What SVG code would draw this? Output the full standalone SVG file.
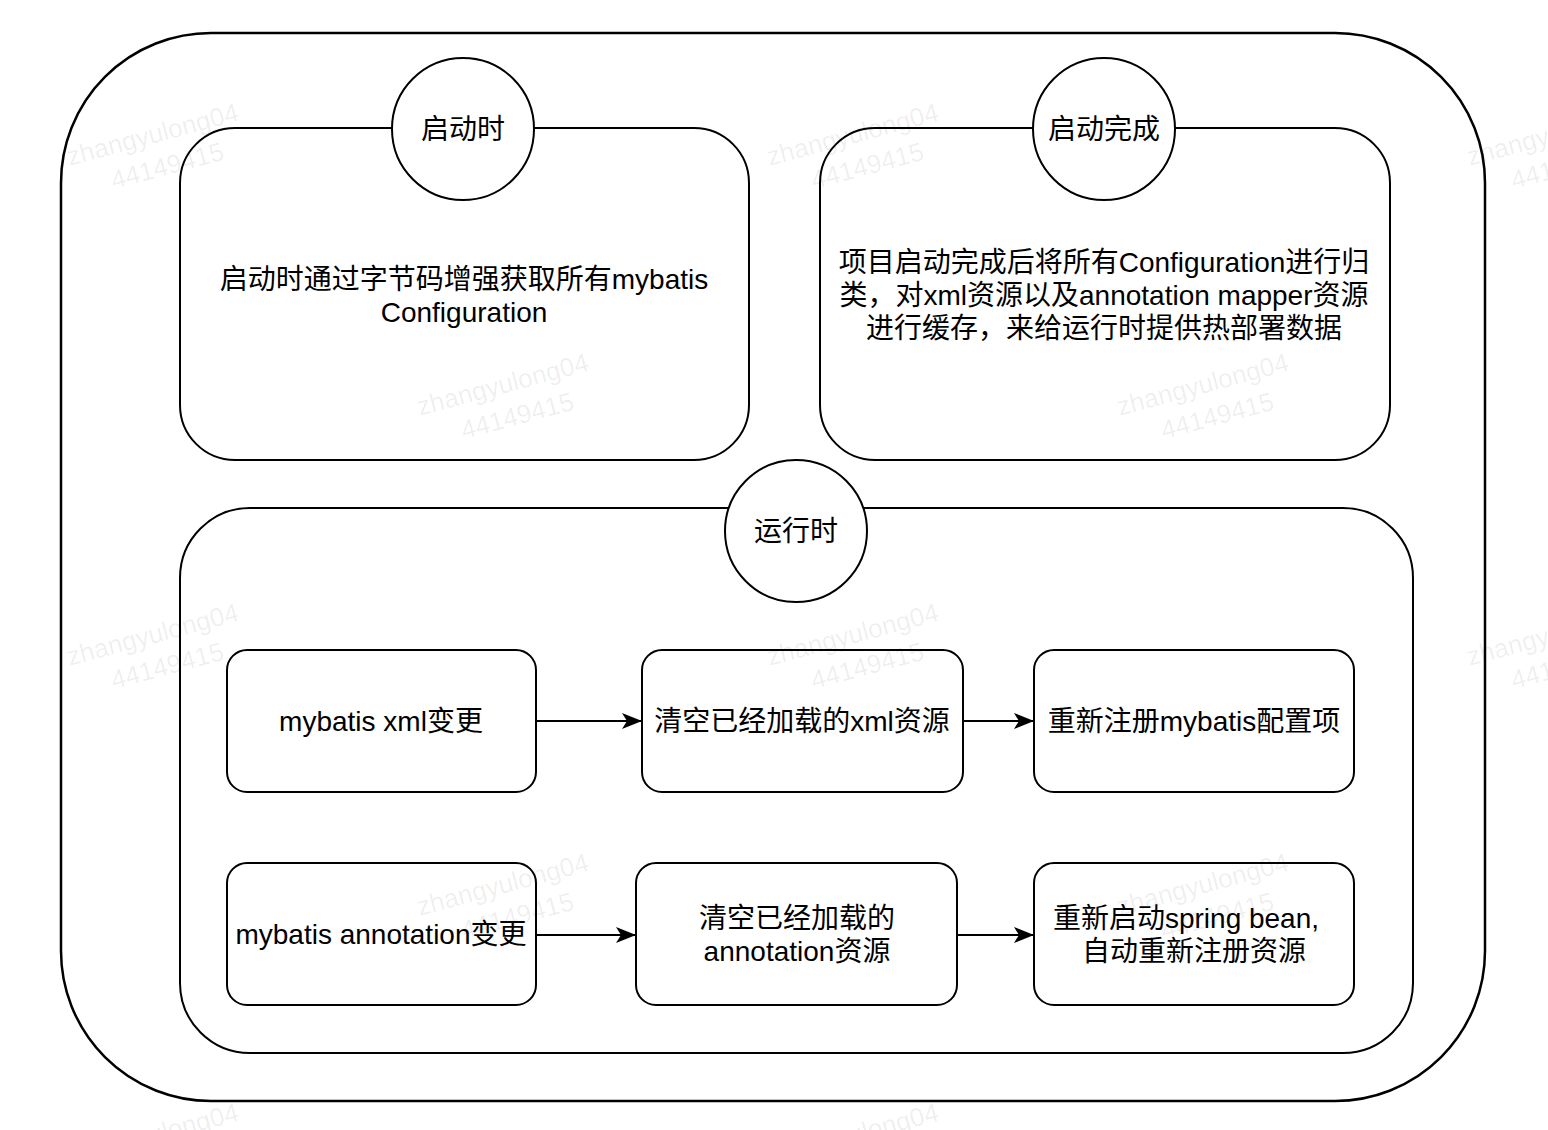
<svg xmlns="http://www.w3.org/2000/svg" width="1548" height="1130" viewBox="0 0 1548 1130">
<defs>
<style>
.frame{fill:#fff;stroke:#000;stroke-width:2.5}
.box{fill:#fff;stroke:#000;stroke-width:2}
.lbl{font-family:"Liberation Sans","Noto Sans CJK SC",sans-serif;font-size:28px;fill:#000;text-anchor:middle;dominant-baseline:central}
.edge{stroke:#000;stroke-width:2;fill:none;marker-end:url(#arr)}
.wm{font-family:"Liberation Sans","Noto Sans CJK SC",sans-serif;font-size:26px;fill:#000;fill-opacity:0.07;text-anchor:middle}
</style>
<marker id="arr" viewBox="0 0 20 16" refX="19" refY="8" markerWidth="20" markerHeight="16" markerUnits="userSpaceOnUse" orient="auto">
<path d="M0,0 L20,8 L0,16 L5,8 Z" fill="#000"/>
</marker>
<g id="wmtile">
<g transform="rotate(-15)">
<text class="wm" x="0" y="0">zhangyulong04</text>
<text class="wm" x="6" y="34">44149415</text>
</g>
</g>
</defs>
<rect width="1548" height="1130" fill="#fff"/>
<g id="outer"><rect class="frame" x="61" y="33" width="1424" height="1068" rx="150" ry="150"/></g>
<g id="startup">
<rect class="box" x="180" y="128" width="569" height="332" rx="55" ry="55"/>
<text class="lbl" x="464" y="279">启动时通过字节码增强获取所有mybatis</text>
<text class="lbl" x="464" y="312">Configuration</text>
</g>
<g id="startup-label"><circle class="box" cx="463" cy="129" r="71"/><text class="lbl" x="463" y="129">启动时</text></g>
<g id="started">
<rect class="box" x="820" y="128" width="570" height="332" rx="55" ry="55"/>
<text class="lbl" x="1104" y="262">项目启动完成后将所有Configuration进行归</text>
<text class="lbl" x="1104" y="295">类，对xml资源以及annotation mapper资源</text>
<text class="lbl" x="1104" y="328">进行缓存，来给运行时提供热部署数据</text>
</g>
<g id="started-label"><circle class="box" cx="1104" cy="129" r="71"/><text class="lbl" x="1104" y="129">启动完成</text></g>
<g id="runtime"><rect class="box" x="180" y="508" width="1233" height="545" rx="70" ry="70"/></g>
<g id="runtime-label"><circle class="box" cx="796" cy="531" r="71"/><text class="lbl" x="796" y="531">运行时</text></g>
<g id="n1"><rect class="box" x="227" y="650" width="309" height="142" rx="20" ry="20"/><text class="lbl" x="381" y="721">mybatis xml变更</text></g>
<g id="n2"><rect class="box" x="642" y="650" width="321" height="142" rx="20" ry="20"/><text class="lbl" x="802" y="721">清空已经加载的xml资源</text></g>
<g id="n3"><rect class="box" x="1034" y="650" width="320" height="142" rx="20" ry="20"/><text class="lbl" x="1194" y="721">重新注册mybatis配置项</text></g>
<g id="n4"><rect class="box" x="227" y="863" width="309" height="142" rx="20" ry="20"/><text class="lbl" x="381" y="934">mybatis annotation变更</text></g>
<g id="n5"><rect class="box" x="636" y="863" width="321" height="142" rx="20" ry="20"/><text class="lbl" x="797" y="918">清空已经加载的</text><text class="lbl" x="797" y="951">annotation资源</text></g>
<g id="n6"><rect class="box" x="1034" y="863" width="320" height="142" rx="20" ry="20"/><text class="lbl" x="1186" y="918">重新启动spring bean,</text><text class="lbl" x="1194" y="951">自动重新注册资源</text></g>
<g id="connectors">
<line class="edge" x1="536" y1="721" x2="641" y2="721"/>
<line class="edge" x1="963" y1="721" x2="1033" y2="721"/>
<line class="edge" x1="536" y1="935" x2="635" y2="935"/>
<line class="edge" x1="957" y1="935" x2="1033" y2="935"/>
</g>
<g id="watermarks">
<use href="#wmtile" x="155" y="143"/>
<use href="#wmtile" x="855" y="143"/>
<use href="#wmtile" x="1555" y="143"/>
<use href="#wmtile" x="505" y="393"/>
<use href="#wmtile" x="1205" y="393"/>
<use href="#wmtile" x="155" y="643"/>
<use href="#wmtile" x="855" y="643"/>
<use href="#wmtile" x="1555" y="643"/>
<use href="#wmtile" x="505" y="893"/>
<use href="#wmtile" x="1205" y="893"/>
<use href="#wmtile" x="155" y="1143"/>
<use href="#wmtile" x="855" y="1143"/>
</g>
</svg>
